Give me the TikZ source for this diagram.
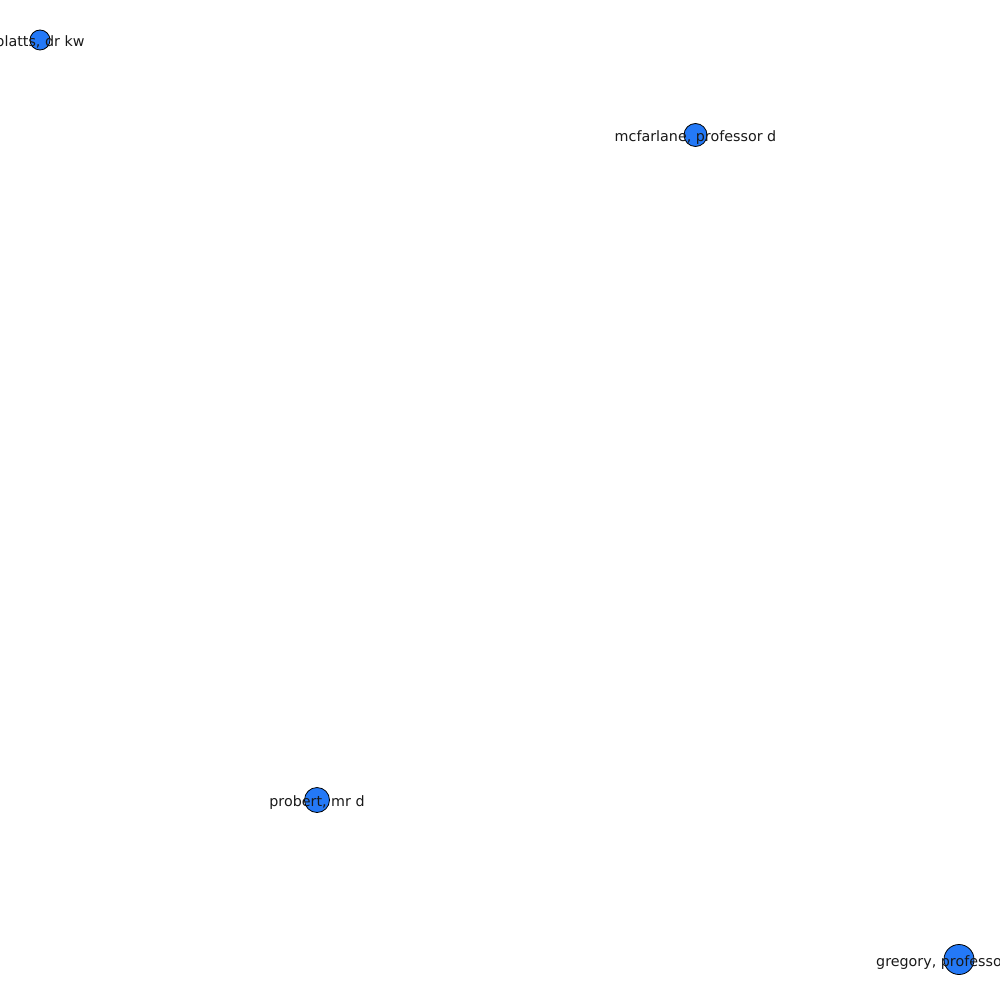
\documentclass[tikz,border=0pt]{standalone}
\usepackage{fontspec}
\setmainfont{DejaVu Sans}
\usepackage{tikz}
\usetikzlibrary{positioning}
\definecolor{nodeblue}{RGB}{36,121,247}
\tikzset{
    person/.style={circle, draw=black, line width=0.8pt, fill=nodeblue, inner sep=0pt},
    personlabel/.style={font=\fontsize{14.3}{16}\selectfont, text=black!90, inner sep=0pt, yshift=-3pt}
}

\begin{document}
\begin{tikzpicture}[x=1pt, y=-1pt]
    % Frame
    \useasboundingbox (0,0) rectangle (1000,1000);
    \clip (0,0) rectangle (1000,1000);

    % People
    \node[person, minimum size=20pt] (platts) at (40,40) {};
    \node[person, minimum size=23pt] (mcfarlane) at (695.5,135) {};
    \node[person, minimum size=25pt] (probert) at (317,800) {};
    \node[person, minimum size=30pt] (gregory) at (959,959.5) {};

    % Labels
    \node[personlabel] (plattslabel) at (platts) {platts, dr kw};
    \node[personlabel] (mcfarlanelabel) at (mcfarlane) {mcfarlane, professor d};
    \node[personlabel] (probertlabel) at (probert) {probert, mr d};
    \node[personlabel, anchor=west] (gregorylabel) at ([xshift=-83pt]gregory.center) {gregory, professor};
\end{tikzpicture}
\end{document}
